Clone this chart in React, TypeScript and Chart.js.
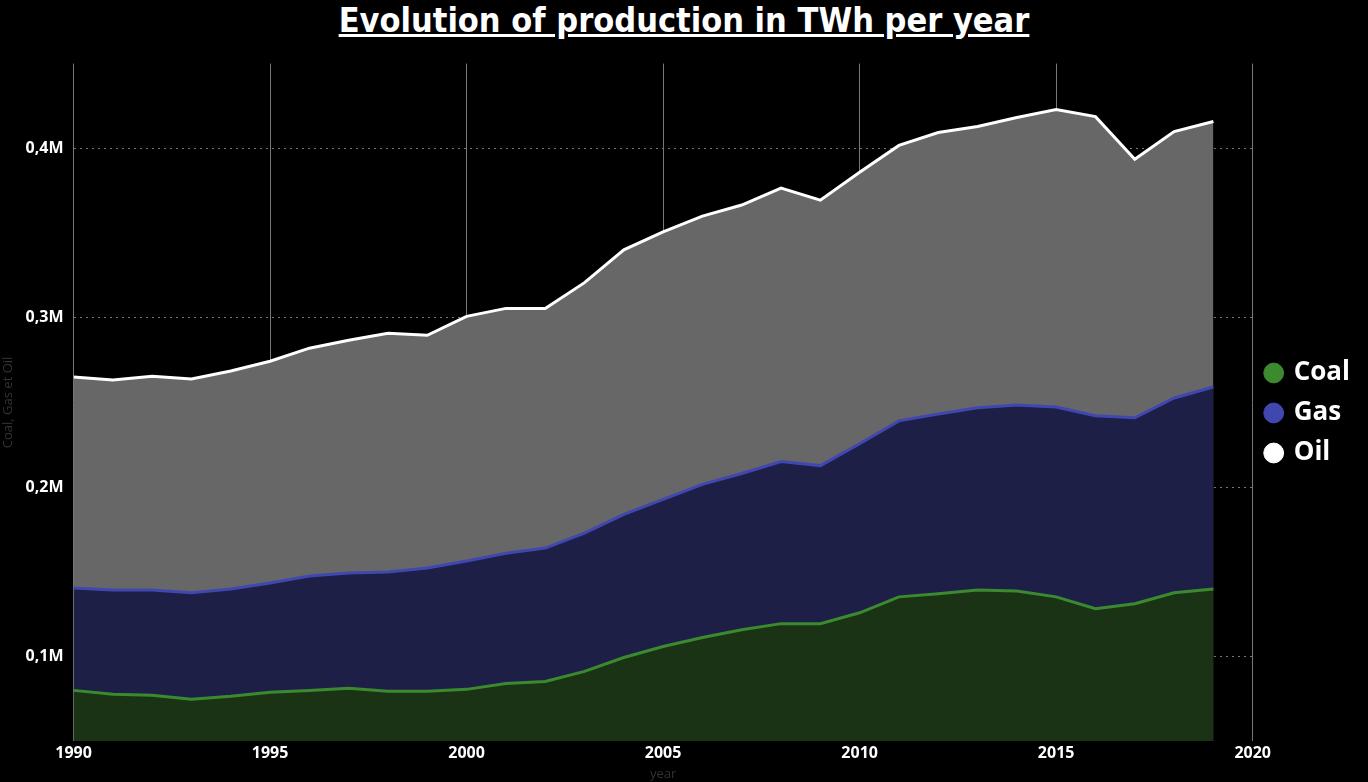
import React, { useEffect, useRef } from 'react';
import Chart from 'chart.js/auto';

const years = [1990, 1991, 1992, 1993, 1994, 1995, 1996, 1997, 1998, 1999, 2000, 2001, 2002, 2003, 2004, 2005, 2006, 2007, 2008, 2009, 2010, 2011, 2012, 2013, 2014, 2015, 2016, 2017, 2018, 2019];
const coal = [80.0, 77.7, 77.1, 74.8, 76.5, 78.9, 80.0, 81.2, 79.5, 79.5, 80.6, 84.1, 85.3, 91.2, 99.4, 105.9, 111.2, 115.8, 119.4, 119.4, 125.8, 135.2, 137.0, 139.3, 138.7, 135.2, 128.2, 131.1, 137.6, 139.9];
const gas = [140.5, 139.3, 139.3, 137.6, 139.9, 143.4, 147.5, 149.3, 149.9, 152.2, 156.4, 161.0, 164.0, 172.8, 183.9, 192.7, 201.6, 208.0, 215.1, 212.7, 225.6, 239.1, 243.2, 246.8, 248.5, 247.3, 242.1, 240.9, 252.6, 259.1];
const oil = [265.0, 263.2, 265.5, 263.8, 268.5, 274.3, 282.0, 286.7, 290.8, 289.6, 300.8, 305.5, 305.5, 320.7, 340.1, 350.6, 360.0, 366.5, 376.5, 369.4, 385.9, 401.7, 409.3, 412.9, 418.2, 422.9, 418.7, 393.5, 409.9, 415.8];
const yTicks = [100000, 200000, 300000, 400000];

const toPoints = (vals: number[]) => vals.map((v, i) => ({ x: years[i], y: v * 1000 }));

const App: React.FC = () => {
  const ref = useRef<HTMLCanvasElement>(null);

  useEffect(() => {
    if (!ref.current) return;
    const chart = new Chart(ref.current, {
      type: 'line',
      data: {
        datasets: [
          { label: 'Coal', data: toPoints(coal), borderColor: '#3b8a2f', backgroundColor: '#1a3314', pointBackgroundColor: '#3b8a2f', fill: 'origin' },
          { label: 'Gas', data: toPoints(gas), borderColor: '#4048b0', backgroundColor: '#1d1f47', pointBackgroundColor: '#4048b0', fill: 'origin' },
          { label: 'Oil', data: toPoints(oil), borderColor: '#ffffff', backgroundColor: '#676767', pointBackgroundColor: '#ffffff', fill: 'origin' },
        ],
      },
      options: {
        animation: false,
        responsive: true,
        maintainAspectRatio: false,
        elements: { point: { radius: 0 }, line: { borderWidth: 3, tension: 0 } },
        layout: { padding: { left: 0, right: 8, top: 0, bottom: 0 } },
        plugins: {
          legend: {
            position: 'right',
            labels: {
              color: '#ffffff',
              usePointStyle: true,
              pointStyle: 'circle',
              boxWidth: 14,
              boxHeight: 14,
              padding: 14,
              font: { family: 'Open Sans', size: 26, weight: 'bold' },
            },
          },
          tooltip: { enabled: false },
        },
        scales: {
          x: {
            type: 'linear',
            min: 1990,
            max: 2020,
            ticks: { stepSize: 5, color: '#ffffff', font: { family: 'Open Sans', size: 16, weight: 'bold' }, callback: (v) => String(v) },
            grid: { color: '#777777', borderDash: [2, 4], drawTicks: false } as any,
            border: { display: false },
            title: { display: true, text: 'year', color: '#333333', font: { family: 'Open Sans', size: 13 }, padding: 0 },
          },
          y: {
            min: 50000,
            max: 450000,
            afterBuildTicks: (axis) => { axis.ticks = yTicks.map((v) => ({ value: v })); },
            ticks: {
              color: '#ffffff',
              padding: 10,
              font: { family: 'Open Sans', size: 16, weight: 'bold' },
              callback: (v) => (Number(v) / 1000000).toFixed(1).replace('.', ',') + 'M',
            },
            grid: { color: '#777777', drawTicks: false } as any,
            border: { display: false, dash: [2, 4] },
            title: { display: true, text: 'Coal, Gas et Oil', color: '#333333', font: { family: 'Open Sans', size: 13 }, padding: 0 },
          },
        },
      },
    });
    return () => chart.destroy();
  }, []);

  return (
    <div style={{ position: 'fixed', inset: 0, background: '#000000', fontFamily: 'Open Sans' }}>
      <div style={{ height: 44, textAlign: 'center', color: '#ffffff', fontFamily: 'DejaVu Sans Condensed', fontWeight: 'bold', fontSize: 34, textDecoration: 'underline', lineHeight: '40px' }}>
        Evolution of production in TWh per year
      </div>
      <div style={{ position: 'absolute', left: 0, right: 0, top: 44, bottom: 0 }}>
        <canvas ref={ref}></canvas>
      </div>
    </div>
  );
};

export default App;
